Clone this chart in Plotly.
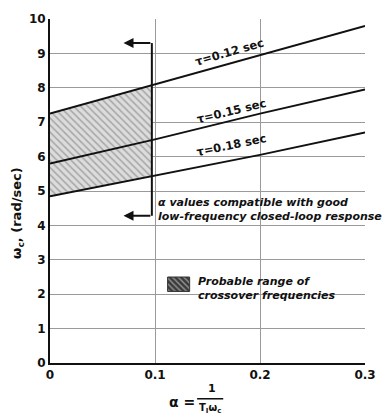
import plotly.graph_objects as go

# datos
alpha = [0.0, 0.1, 0.2, 0.3]
wc_t012 = [7.25, 8.1, 8.95, 9.8]
wc_t015 = [5.8, 6.5, 7.25, 7.95]
wc_t018 = [4.85, 5.45, 6.05, 6.7]
curvas = [("τ=0.12 sec", wc_t012), ("τ=0.15 sec", wc_t015), ("τ=0.18 sec", wc_t018)]

# zona sombreada (alpha compatibles)
alpha_zona = [0.0, 0.097]
zona_sup = [7.25, 8.07]
zona_inf = [4.85, 5.43]

# corchete con flechas
corchete_x = 0.097
flecha_x = 0.07
corchete_y = (9.3, 4.28)

# muestra de la leyenda (rectangulo rayado)
muestra_x = (0.112, 0.133)
muestra_y = (2.08, 2.5)

y_ticks = list(range(0, 11))
x_ticks = [0, 0.1, 0.2, 0.3]
x_ticktext = ["0", "0.1", "0.2", "0.3"]

FONT = "DejaVu Sans"
NEGRO = "#111"

fig = go.Figure()

fig.add_trace(go.Scatter(x=alpha_zona, y=zona_inf, mode="lines",
                         line=dict(width=0), showlegend=False, hoverinfo="skip"))
fig.add_trace(go.Scatter(
    x=alpha_zona, y=zona_sup, mode="lines", line=dict(width=0),
    fill="tonexty", showlegend=False,
    fillpattern=dict(shape="\\", fgcolor="#707070", bgcolor="#dcdcdc",
                     size=5, solidity=0.3, fillmode="overlay"),
))

for nombre, wc in curvas:
    fig.add_trace(go.Scatter(x=alpha, y=wc, mode="lines",
                             line=dict(color=NEGRO, width=2), showlegend=False))

# etiquetas de las curvas
etiquetas = [(0.171, 9.05, -16), (0.173, 7.33, -13.5), (0.173, 6.33, -11.5)]
for (nombre, _), (lx, ly, ang) in zip(curvas, etiquetas):
    fig.add_annotation(x=lx, y=ly, text=nombre, showarrow=False, textangle=ang,
                       font=dict(family=FONT, size=11.5, color=NEGRO, weight="bold"))

# corchete
fig.add_trace(go.Scatter(x=[corchete_x, corchete_x], y=list(corchete_y), mode="lines",
                         line=dict(color=NEGRO, width=2), showlegend=False))
for yy in corchete_y:
    fig.add_annotation(x=flecha_x, y=yy, ax=corchete_x, ay=yy, axref="x", ayref="y",
                       text="", showarrow=True, arrowhead=2, arrowsize=1,
                       arrowwidth=2, arrowcolor=NEGRO)

fig.add_annotation(x=0.101, y=4.9, xanchor="left", yanchor="top", align="left",
                   text="<i>α values compatible with good<br>low-frequency closed-loop response</i>",
                   showarrow=False,
                   font=dict(family=FONT, size=11, color=NEGRO, weight="bold"))

# leyenda: rectangulo rayado + texto
mx0, mx1 = muestra_x
my0, my1 = muestra_y
fig.add_trace(go.Scatter(
    x=[mx0, mx1, mx1, mx0, mx0], y=[my0, my0, my1, my1, my0], mode="lines",
    fill="toself", line=dict(color="#333", width=1), showlegend=False,
    fillpattern=dict(shape="\\", fgcolor="#f0f0f0", bgcolor="#3a3a3a",
                     size=4, solidity=0.35, fillmode="overlay"),
))
fig.add_annotation(x=0.139, y=my1 + 0.12, xanchor="left", yanchor="top", align="left",
                   text="<i>Probable range of<br>crossover frequencies</i>",
                   showarrow=False,
                   font=dict(family=FONT, size=11, color=NEGRO, weight="bold"))

# titulo eje y
fig.add_annotation(xref="paper", yref="paper", x=-0.103, y=0.435, textangle=-90,
                   xanchor="center", yanchor="middle",
                   text="ω<sub>c</sub>, (rad/sec)", showarrow=False,
                   font=dict(family=FONT, size=13, color=NEGRO, weight="bold"))

# titulo eje x (fraccion)
fig.add_annotation(xref="paper", yref="paper", x=0.372, y=-0.114, xanchor="left",
                   yanchor="middle", text="α =", showarrow=False,
                   font=dict(family=FONT, size=14, color=NEGRO, weight="bold"))
fig.add_annotation(xref="paper", yref="paper", x=0.515, y=-0.098,
                   xanchor="center", yanchor="bottom",
                   text="1", showarrow=False,
                   font=dict(family=FONT, size=11, color=NEGRO, weight="bold"))
fig.add_annotation(xref="paper", yref="paper", x=0.508, y=-0.108,
                   xanchor="center", yanchor="top",
                   text="T<sub>I</sub>ω<sub>c</sub>", showarrow=False,
                   font=dict(family=FONT, size=10, color=NEGRO, weight="bold"))
fig.add_shape(type="line", xref="paper", yref="paper", x0=0.467, x1=0.55,
              y0=-0.104, y1=-0.104, line=dict(color=NEGRO, width=1.5))

fig.update_xaxes(range=[0, 0.3], tickvals=x_ticks, ticktext=x_ticktext,
                 showgrid=True, gridcolor="#9a9a9a", gridwidth=1,
                 showline=True, linecolor=NEGRO, linewidth=2, zeroline=False,
                 ticks="", tickfont=dict(family=FONT, size=12, color=NEGRO, weight="bold"))
fig.update_yaxes(range=[0, 10], tickvals=y_ticks,
                 showgrid=True, gridcolor="#9a9a9a", gridwidth=1,
                 showline=True, linecolor=NEGRO, linewidth=2, zeroline=False,
                 ticks="", tickfont=dict(family=FONT, size=12, color=NEGRO, weight="bold"))

fig.update_layout(
    width=391, height=420,
    margin=dict(l=50, r=26, t=13, b=57),
    plot_bgcolor="white", paper_bgcolor="white",
    font=dict(family=FONT, color=NEGRO),
    showlegend=False,
)

# quitar el margen por defecto del body para que la figura quepa en la ventana
fig.write_html("out.html", config={"displayModeBar": False},
               post_script="document.body.style.margin='0';")
